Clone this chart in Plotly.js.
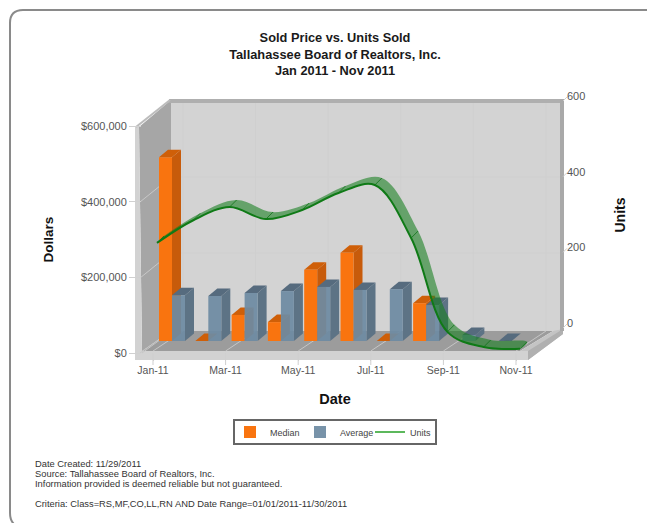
<!DOCTYPE html>
<html><head><meta charset="utf-8">
<script src="https://cdn.plot.ly/plotly-3.0.1.min.js"></script>
<style>html,body{margin:0;padding:0;background:#fff}#c{width:647px;height:523px}</style>
</head><body><div id="c"></div>
<script>
// ---------- data ----------
const months = ['Jan-11','Feb-11','Mar-11','Apr-11','May-11','Jun-11','Jul-11','Aug-11','Sep-11','Oct-11','Nov-11'];
const median = [486000,0,69000,50000,188000,233000,0,100000,null,null,null];
const average = [121000,119000,127000,132000,143000,135000,137000,95000,16000,0,null];
const units = [283,343,378,346,370,415,436,296,48,8,3];
const dollarTicks = [0,200000,400000,600000];
const dollarLabels = ['$0','$200,000','$400,000','$600,000'];
const unitTicks = [0,200,400,600];
const tickEvery2 = [0,2,4,6,8,10];
const titleLines = ['Sold Price vs. Units Sold','Tallahassee Board of Realtors, Inc.','Jan 2011 - Nov 2011'];
const footerLines = ['Date Created: 11/29/2011','Source: Tallahassee Board of Realtors, Inc.','Information provided is deemed reliable but not guaranteed.','Criteria: Class=RS,MF,CO,LL,RN AND Date Range=01/01/2011-11/30/2011'];
const footerY = [464,474,484,504];

// ---------- page geometry (pixels) ----------
const W=647,H=523, L=135,R=566,T=90,B=360, pw=R-L, ph=B-T;
const PX=x=>(x-L)/pw, PY=y=>(B-y)/ph;
const frontX0=142,frontX1=528,tick0=153,catW=36.3;
const y0Px=353,y600Px=126,scalePx=(y0Px-y600Px)/600000;
const xr=[(frontX0-tick0)/catW,(frontX1-tick0)/catW];
const idx=months.map((_,i)=>i);
const dU=x=>x/catW, dD=y=>y/scalePx;
const barW=dU(13), medOff=dU(12.5), avgOff=dU(25.5), baseD=dD(y0Px-341);
const depthX=dU(9), depthY=dD(7.5);

function poly(pts,fill,line){return {type:'path',xref:'paper',yref:'paper',layer:'below',
  path:'M'+pts.map(p=>PX(p[0])+' '+PY(p[1])).join(' L')+' Z',fillcolor:fill,line:line||{width:0}};}
function seg(x0,y0,x1,y1,color,w){return {type:'line',xref:'paper',yref:'paper',layer:'below',
  x0:PX(x0),y0:PY(y0),x1:PX(x1),y1:PY(y1),line:{color:color,width:w||1}};}

const shapes=[];
// outer frame
shapes.push({type:'path',xref:'paper',yref:'paper',layer:'below',
  path:`M${PX(650)} ${PY(10)} L${PX(23)} ${PY(10)} Q${PX(10)} ${PY(10)} ${PX(10)} ${PY(23)} L${PX(10)} ${PY(513)} Q${PX(10)} ${PY(521)} ${PX(15)} ${PY(525)}`,
  line:{color:'#8a8a8a',width:2}});
// legend box
shapes.push({type:'rect',xref:'paper',yref:'paper',layer:'below',x0:PX(234),x1:PX(436),y0:PY(420),y1:PY(444),fillcolor:'#fff',line:{color:'#666',width:2}});
// back wall, left wall, floor, bands, rims
shapes.push(poly([[171,101],[561,101],[561,331],[171,331]],'#d3d3d3'));
shapes.push(poly([[171,100],[171,331],[142,351],[139,127]],'#a6a6a6'));
shapes.push(poly([[171,331],[553,331],[520,351],[142,351]],'#9c9c9c'));
shapes.push(poly([[135,360],[528,360],[528,351],[142,351],[139,127],[135,127]],'#d2d2d2'));
shapes.push(poly([[520,351],[553,331],[563,329],[563,334],[528,360],[528,351]],'#c4c4c4'));
shapes.push(poly([[528,351],[563,329],[563,334],[528,360]],'#b0b0b0'));
shapes.push(poly([[169,99],[564,99],[564,103],[169,103]],'#afafaf'));
shapes.push(poly([[560,99],[564,99],[564,331],[560,331]],'#a9a9a9'));
shapes.push(seg(136,127,170,100,'#bcbcbc',2));
// depth grid: dollars on left wall / back wall
[202,278].forEach(y=>{shapes.push(seg(140,y,171,y-25,'#c8c8c8',1));shapes.push(seg(171,y-25,560,y-25,'#cfcfcf',1));});
shapes.push(seg(140,353,171,331,'#c8c8c8',1));
// depth grid: months on floor / back wall, and tick marks through the band
tickEvery2.forEach(i=>{const x=tick0+i*catW;
  shapes.push(seg(x,351,x+30,331,'#c6c6c6',1));
  shapes.push(seg(x+30,103,x+30,331,'#cfcfcf',1));
  shapes.push(seg(x,353,x,365,'#cfcfcf',1));});
shapes.push(seg(142,353,172,331,'#c6c6c6',1));
// right side unit ticks leaving the back wall
unitTicks.forEach(u=>{const y=328-u*scalePx*1000;shapes.push(seg(563,y,567,y-4,'#cfcfcf',1));});

// bar depth faces derived from the values
function addDepth(vals,off,sideC,topC){vals.forEach((v,i)=>{ if(v===null) return;
  const x0=i+off-barW/2,x1=i+off+barW/2,b=baseD,t=baseD+v;
  const path=a=>'M'+a.map(p=>p[0]+' '+p[1]).join(' L')+' Z';
  shapes.push({type:'path',xref:'x',yref:'y',layer:'below',line:{width:0},fillcolor:sideC,
    path:path([[x1,b],[x1+depthX,b+depthY],[x1+depthX,t+depthY],[x1,t]])});
  shapes.push({type:'path',xref:'x',yref:'y',layer:'below',line:{width:0},fillcolor:topC,
    path:path([[x0,t],[x1,t],[x1+depthX,t+depthY],[x0+depthX,t+depthY]])});
});}
addDepth(median,medOff,'#c75b0b','#cf5f08');
addDepth(average,avgOff,'#5d7385','#566b7e');

// units ribbon, built from the unit values
const unitPerPx=600/(y0Px-y600Px);
const lineOff=dU(4), ribX=dU(7), ribY=7*unitPerPx;
const lx=idx.map(i=>i+lineOff);
const ribbonX=lx.concat(lx.slice().reverse().map(x=>x+ribX));
const ribbonY=units.concat(units.slice().reverse().map(u=>u+ribY));
const crossX=[],crossY=[];
lx.forEach((x,i)=>{crossX.push(x,x+ribX,null);crossY.push(units[i],units[i]+ribY,null);});

const txt='Liberation Sans, Arial, sans-serif';
const traces=[
 {type:'bar',name:'Median',x:idx.map(i=>i+medOff),y:median,base:baseD,width:barW,marker:{color:'#f9740f'},xaxis:'x',yaxis:'y'},
 {type:'bar',name:'Average',x:idx.map(i=>i+avgOff),y:average,base:baseD,width:barW,marker:{color:'rgba(110,139,163,0.93)'},xaxis:'x',yaxis:'y'},
 {type:'scatter',mode:'lines',x:[null],y:[null],name:'Units',line:{color:'#5cb85c',width:2},xaxis:'x',yaxis:'y2'},
 {type:'scatter',mode:'lines',x:ribbonX,y:ribbonY,fill:'toself',fillcolor:'rgba(20,125,30,0.58)',line:{width:0,shape:'spline'},showlegend:false,xaxis:'x',yaxis:'y3',hoverinfo:'skip'},
 {type:'scatter',mode:'lines',x:crossX,y:crossY,line:{color:'rgba(15,115,25,0.8)',width:1},showlegend:false,xaxis:'x',yaxis:'y3',hoverinfo:'skip'},
 {type:'scatter',mode:'lines',x:lx,y:units,name:'Units',line:{color:'#0f7a16',width:2,shape:'spline'},showlegend:false,xaxis:'x',yaxis:'y3'}
];

const footAnn=footerLines.map((t,i)=>({xref:'paper',yref:'paper',x:PX(33),y:PY(footerY[i]),xanchor:'left',yanchor:'middle',showarrow:false,text:t,font:{family:txt,size:9.35,color:'#333'}}));

const layout={
 width:W,height:H,paper_bgcolor:'#fff',plot_bgcolor:'rgba(0,0,0,0)',showlegend:true,barmode:'overlay',
 margin:{l:L,r:W-R,t:T,b:H-B,pad:0,autoexpand:false},
 font:{family:txt,color:'#444'},
 title:{text:titleLines.join('<br>'),xref:'paper',x:PX(335),xanchor:'center',yref:'container',y:1-42/H,yanchor:'top',font:{family:txt,size:12.8,weight:'bold',color:'#1a1a1a'}},
 xaxis:{domain:[PX(frontX0),PX(frontX1)],range:xr,anchor:'y',tickmode:'array',tickvals:tickEvery2,ticktext:tickEvery2.map(i=>months[i]),
   ticks:'outside',ticklen:7,tickcolor:'#d0d0d0',showgrid:false,zeroline:false,showline:false,tickfont:{size:10.5,color:'#555'},
   title:{text:'Date',standoff:19,font:{size:14.5,weight:'bold',color:'#111'}}},
 yaxis:{domain:[PY(y0Px),PY(y600Px)],range:[0,600000],anchor:'x',tickmode:'array',tickvals:dollarTicks,ticktext:dollarLabels,
   ticks:'outside',ticklen:12,tickcolor:'#d0d0d0',showgrid:false,zeroline:false,showline:false,tickfont:{size:11,color:'#555'},
   title:{text:'Dollars',standoff:24,font:{size:13.5,weight:'bold',color:'#111'}}},
 yaxis2:{domain:[PY(334),PY(96)],range:[-11*unitPerPx,600],anchor:'free',position:1,side:'right',tickmode:'array',tickvals:unitTicks,
   ticks:'',showgrid:false,zeroline:false,showline:false,tickfont:{size:11,color:'#555'},
   title:{text:'Units',standoff:30,font:{size:14,weight:'bold',color:'#111'}}},
 yaxis3:{domain:[PY(350),PY(96)],range:[0,254*unitPerPx],anchor:'x',visible:false},
 legend:{orientation:'h',x:PX(230),y:PY(432),xanchor:'left',yanchor:'middle',bgcolor:'rgba(0,0,0,0)',borderwidth:0,font:{size:9,color:'#444'},
   entrywidth:25,entrywidthmode:'pixels',tracegroupgap:0,itemclick:false,itemdoubleclick:false},
 shapes:shapes,annotations:footAnn
};
Plotly.newPlot('c',traces,layout,{displayModeBar:false,staticPlot:true});
</script></body></html>
